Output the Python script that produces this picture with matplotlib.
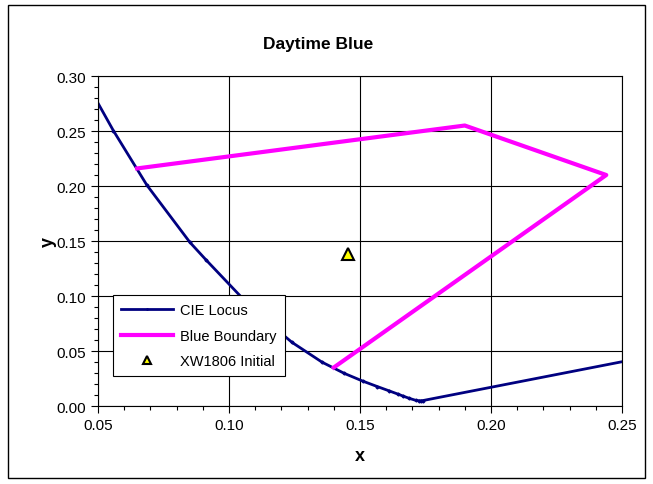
import matplotlib
matplotlib.use("Agg")
import matplotlib.pyplot as plt
from matplotlib.ticker import MultipleLocator, FormatStrFormatter
from matplotlib.patches import Rectangle

plt.rcParams['font.family'] = ['Liberation Sans', 'DejaVu Sans']

# CIE 1931 spectral locus (blue region) + purple line segment
locus_x = [0.0454, 0.0559, 0.0687, 0.0851, 0.0913, 0.1096, 0.1241, 0.1355, 0.1440, 0.1510,
           0.1566, 0.1611, 0.1644, 0.1666, 0.1689, 0.1714, 0.1726, 0.1733, 0.1741, 0.7347]
locus_y = [0.2950, 0.2503, 0.2007, 0.1488, 0.1327, 0.0868, 0.0578, 0.0399, 0.0297, 0.0227,
           0.0177, 0.0138, 0.0109, 0.0089, 0.0069, 0.0051, 0.0048, 0.0048, 0.0050, 0.2653]

boundary_x = [0.065, 0.190, 0.244, 0.140]
boundary_y = [0.216, 0.255, 0.210, 0.035]

point_x = [0.1454]
point_y = [0.138]

fig = plt.figure(figsize=(6.53, 4.85), dpi=100)
ax = fig.add_axes([0.150, 0.1608, 0.8025, 0.6804])

ax.plot(locus_x, locus_y, color='#000080', lw=2, marker='D', markersize=1.5,
        label='CIE Locus')
ax.plot(boundary_x, boundary_y, color='#FF00FF', lw=3, label='Blue Boundary')
ax.plot(point_x, point_y, linestyle='none', marker='^', markersize=9,
        markerfacecolor='#FFFF00', markeredgecolor='black', markeredgewidth=1.5,
        label='XW1806 Initial')

ax.set_xlim(0.05, 0.25)
ax.set_ylim(0.0, 0.30)
ax.xaxis.set_major_locator(MultipleLocator(0.05))
ax.xaxis.set_minor_locator(MultipleLocator(0.01))
ax.yaxis.set_major_locator(MultipleLocator(0.05))
ax.yaxis.set_minor_locator(MultipleLocator(0.01))
ax.xaxis.set_major_formatter(FormatStrFormatter('%.2f'))
ax.yaxis.set_major_formatter(FormatStrFormatter('%.2f'))
ax.grid(True, which='major', color='black', lw=0.8)
ax.tick_params(which='major', length=5, width=0.8, labelsize=11, color='black')
ax.tick_params(which='minor', length=3, width=0.8)
for s in ax.spines.values():
    s.set_color('black')
    s.set_linewidth(0.8)

ax.set_xlabel('x', fontsize=13, fontweight='bold', labelpad=11)
ax.set_ylabel('y', fontsize=13, fontweight='bold', labelpad=0)
fig.text(0.487, 1 - 45 / 485, 'Daytime Blue', fontsize=12.5, fontweight='bold',
         ha='center', va='center')

leg = ax.legend(loc='lower left', bbox_to_anchor=(0.0286, 0.0909), borderaxespad=0,
                fontsize=10.5, frameon=True, fancybox=False, edgecolor='black', framealpha=1,
                handlelength=3.6, handletextpad=0.45, borderpad=0.55, labelspacing=0.78,
                markerscale=0.6)
leg.get_frame().set_linewidth(0.8)

fig.patches.append(Rectangle((0.012, 0.012), 0.976, 0.976, transform=fig.transFigure,
                             fill=False, edgecolor='black', lw=1))

fig.savefig('out.png', dpi=100)
